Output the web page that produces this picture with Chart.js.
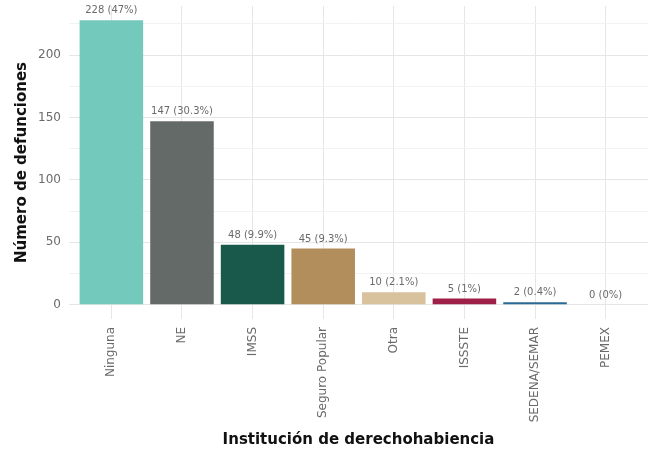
<!DOCTYPE html>
<html>
<head>
<meta charset="utf-8">
<script src="https://cdn.jsdelivr.net/npm/chart.js@4"></script>
<style>
html,body{margin:0;padding:0;background:#fff;}
#wrap{width:655px;height:452px;position:relative;}
</style>
</head>
<body>
<div id="wrap"><canvas id="c" width="655" height="452"></canvas></div>
<script>
const categories = ["Ninguna","NE","IMSS","Seguro Popular","Otra","ISSSTE","SEDENA/SEMAR","PEMEX"];
const deaths = [228,147,48,45,10,5,2,0];
const percents = ["47%","30.3%","9.9%","9.3%","2.1%","1%","0.4%","0%"];
const colors = ["#74C9BD","#646A67","#19594B","#B38E5D","#D8C29D","#9E1F48","#2A6A94","#999999"];
const yTicks = [0,25,50,75,100,125,150,175,200,225];

const FONT = "'DejaVu Sans', sans-serif";

const labelPlugin = {
  id: 'barLabels',
  afterDatasetsDraw(chart) {
    const ctx = chart.ctx;
    const meta = chart.getDatasetMeta(0);
    ctx.save();
    ctx.font = "10px " + FONT;
    ctx.fillStyle = "#6a6a6a";
    ctx.textAlign = "center";
    ctx.textBaseline = "alphabetic";
    meta.data.forEach((bar, i) => {
      ctx.fillText(deaths[i] + " (" + percents[i] + ")", bar.x, bar.y - 7);
    });
    ctx.restore();
  }
};

new Chart(document.getElementById('c'), {
  type: 'bar',
  data: {
    datasets: [{
      data: deaths.map((v, i) => ({ x: i, y: v })),
      backgroundColor: colors,
      borderWidth: 0,
      categoryPercentage: 1.0,
      barPercentage: 0.9
    }]
  },
  options: {
    responsive: false,
    animation: false,
    layout: { padding: { top: 6, right: 7, left: 10, bottom: 0 } },
    plugins: { legend: { display: false }, tooltip: { enabled: false } },
    scales: {
      x: {
        type: 'linear',
        offset: false,
        min: -0.6, max: 7.6,
        afterBuildTicks(scale) { scale.ticks = categories.map((c, i) => ({ value: i })); },
        afterFit(scale) {
          scale.height = 133;
          scale.paddingLeft = 0; scale.paddingRight = 0; scale.paddingTop = 0; scale.paddingBottom = 0;
        },
        grid: { offset: false, color: "#e6e6e6", drawTicks: false },
        border: { display: false },
        ticks: {
          minRotation: 90, maxRotation: 90, padding: 8, autoSkip: false,
          color: "#6a6a6a", font: { family: FONT, size: 12 },
          callback: (v) => categories[v] ?? ""
        },
        title: {
          display: true, text: "Institución de derechohabiencia",
          color: "#111", font: { family: FONT, size: 15, weight: 'bold' }, padding: { top: 0, bottom: 3 }
        }
      },
      y: {
        min: -11.4, max: 239.4,
        afterFit(scale) {
          scale.width = 59;
          scale.paddingLeft = 0; scale.paddingRight = 0; scale.paddingTop = 0; scale.paddingBottom = 0;
        },
        afterBuildTicks(scale) { scale.ticks = yTicks.map(v => ({ value: v })); },
        grid: {
          drawTicks: false,
          color: (c) => (c.tick && c.tick.value % 50 === 0) ? "#e6e6e6" : "#f2f2f2"
        },
        border: { display: false },
        ticks: {
          padding: 8, color: "#6a6a6a", font: { family: FONT, size: 12 },
          callback: (v) => (v % 50 === 0 ? String(v) : "")
        },
        title: {
          display: true, text: "Número de defunciones",
          color: "#111", font: { family: FONT, size: 15, weight: 'bold' }, padding: { top: 3, bottom: 0 }
        }
      }
    }
  },
  plugins: [labelPlugin]
});
</script>
</body>
</html>
